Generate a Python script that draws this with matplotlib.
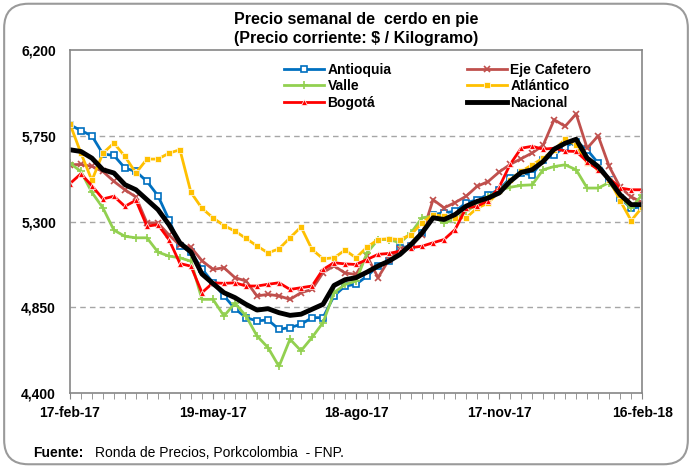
import matplotlib
matplotlib.use("Agg")
import matplotlib.pyplot as plt
from matplotlib.patches import FancyBboxPatch
import numpy as np

plt.rcParams['font.family'] = ['Liberation Sans Narrow', 'Liberation Sans', 'DejaVu Sans']

# weekly prices, 17-feb-17 .. 16-feb-18 (53 weeks)
antioquia = [5808, 5778, 5750, 5655, 5647, 5581, 5563, 5511, 5436, 5310, 5174, 5140, 5053,
             4979, 4910, 4843, 4796, 4779, 4784, 4735, 4744, 4761, 4796, 4796, 4910, 4962,
             4971, 5014, 5067, 5093, 5163, 5171, 5241, 5337, 5346, 5354, 5398, 5415, 5441,
             5467, 5528, 5555, 5546, 5624, 5650, 5694, 5720, 5677, 5607, 5520, 5424, 5371, 5377]
eje_cafetero = [5598, 5600, 5590, 5563, 5511, 5467, 5429, 5293, 5293, 5230, 5175, 5165, 5095,
                5049, 5058, 5006, 4988, 4910, 4918, 4910, 4892, 4927, 4944, 5032, 5068, 5030,
                5023, 5119, 5006, 5101, 5154, 5171, 5232, 5415, 5372, 5400, 5433, 5485, 5510,
                5560, 5600, 5630, 5660, 5700, 5835, 5800, 5865, 5685, 5750, 5590, 5480, 5430, 5400]
valle = [5607, 5563, 5453, 5372, 5255, 5223, 5215, 5215, 5140, 5119, 5110, 5092, 4892,
         4892, 4805, 4871, 4805, 4700, 4639, 4540, 4683, 4622, 4692, 4770, 4927, 4970,
         4988, 5136, 5206, 5206, 5189, 5241, 5320, 5328, 5293, 5311, 5354, 5390, 5430,
         5465, 5480, 5490, 5493, 5572, 5589, 5598, 5572, 5476, 5476, 5505, 5432, 5371, 5441]
atlantico = [5813, 5660, 5516, 5659, 5712, 5642, 5555, 5628, 5628, 5659, 5677, 5453, 5370,
             5320, 5279, 5250, 5212, 5172, 5136, 5157, 5215, 5272, 5154, 5105, 5110, 5150,
             5110, 5166, 5206, 5210, 5206, 5232, 5293, 5337, 5328, 5320, 5320, 5371, 5397,
             5458, 5520, 5563, 5598, 5633, 5677, 5732, 5703, 5607, 5580, 5520, 5410, 5305, 5375]
bogota = [5499, 5551, 5488, 5419, 5433, 5380, 5412, 5276, 5284, 5206, 5080, 5066, 4927,
          4979, 4976, 4979, 4962, 4962, 4971, 4979, 4944, 4953, 4962, 5049, 5084, 5078,
          5075, 5101, 5128, 5133, 5145, 5163, 5171, 5189, 5206, 5258, 5372, 5380, 5410,
          5480, 5600, 5685, 5695, 5680, 5685, 5670, 5668, 5615, 5572, 5528, 5476, 5467, 5467]
nacional = [5677, 5668, 5633, 5572, 5555, 5494, 5467, 5415, 5363, 5284, 5188, 5140, 5025,
            4975, 4927, 4901, 4866, 4836, 4843, 4822, 4808, 4814, 4840, 4866, 4965, 4995,
            5006, 5035, 5067, 5093, 5128, 5180, 5241, 5320, 5311, 5337, 5381, 5406, 5424,
            5450, 5511, 5558, 5572, 5615, 5680, 5711, 5732, 5633, 5589, 5520, 5441, 5389, 5389]

x_labels = ['17-feb-17', '19-may-17', '18-ago-17', '17-nov-17', '16-feb-18']
y_ticks = [4400, 4850, 5300, 5750, 6200]

weeks = np.arange(len(nacional))

fig = plt.figure(figsize=(6.92, 4.68), dpi=100)
ax = fig.add_axes([0.101, 0.160, 0.827, 0.733])

# rounded frame around the whole chart
frame = FancyBboxPatch((0.006, 0.008), 0.988, 0.984, boxstyle="round,pad=0,rounding_size=0.035",
                       transform=fig.transFigure, facecolor='none', edgecolor='#9a9a9a',
                       linewidth=1.5, mutation_aspect=692 / 468)
fig.patches.append(frame)

h_ant, = ax.plot(weeks, antioquia, color='#0070C0', lw=2, marker='s', ms=5,
                 mfc='white', mec='#0070C0', mew=1.2, label='Antioquia')
h_eje, = ax.plot(weeks, eje_cafetero, color='#C0504D', lw=2, marker='x', ms=5,
                 mew=1.2, label='Eje Cafetero')
h_val, = ax.plot(weeks, valle, color='#92D050', lw=2, marker='+', ms=6,
                 mew=1.2, label='Valle')
h_atl, = ax.plot(weeks, atlantico, color='#FFC000', lw=2, marker='s', ms=4,
                 mec='white', mew=0.5, label='Atlántico')
h_bog, = ax.plot(weeks, bogota, color='#FF0000', lw=2, marker='^', ms=5,
                 mec='white', mew=0.5, label='Bogotá')
h_nac, = ax.plot(weeks, nacional, color='black', lw=3.5, label='Nacional')

ax.set_xlim(0, len(weeks) - 1)
ax.set_ylim(4400, 6200)
ax.set_yticks(y_ticks)
ax.set_yticklabels([f'{v:,}' for v in y_ticks], fontweight='bold', fontsize=10)
ax.tick_params(axis='y', length=0, pad=10)
ax.set_xticks(weeks, minor=True)
ax.set_xticks(weeks[::13])
ax.set_xticklabels(x_labels, fontweight='bold', fontsize=10)
ax.tick_params(axis='x', which='both', length=4, color='#868686', pad=5)

for v in y_ticks[1:-1]:
    ax.axhline(v, color='#A6A6A6', lw=1, ls=(0, (4, 3)), zorder=0)

for s in ax.spines.values():
    s.set_color('#868686')
    s.set_linewidth(1.2)

ax.legend(handles=[h_ant, h_val, h_bog, h_eje, h_atl, h_nac], ncol=2, frameon=False,
          loc='upper left', bbox_to_anchor=(0.352, 1.0), prop={'weight': 'bold', 'size': 10},
          handlelength=2.9, handletextpad=0.25, columnspacing=5.4, labelspacing=0.2)

fig.text(0.514, 0.958, 'Precio semanal de  cerdo en pie', ha='center', va='center',
         fontsize=11.5, fontweight='bold')
fig.text(0.514, 0.918, '(Precio corriente: $ / Kilogramo)', ha='center', va='center',
         fontsize=11.5, fontweight='bold')

fig.text(0.048, 0.033, 'Fuente:', fontsize=10, fontweight='bold', va='center')
fig.text(0.137, 0.033, 'Ronda de Precios, Porkcolombia  - FNP.', fontsize=10, va='center')

fig.savefig('out.png', dpi=100)
